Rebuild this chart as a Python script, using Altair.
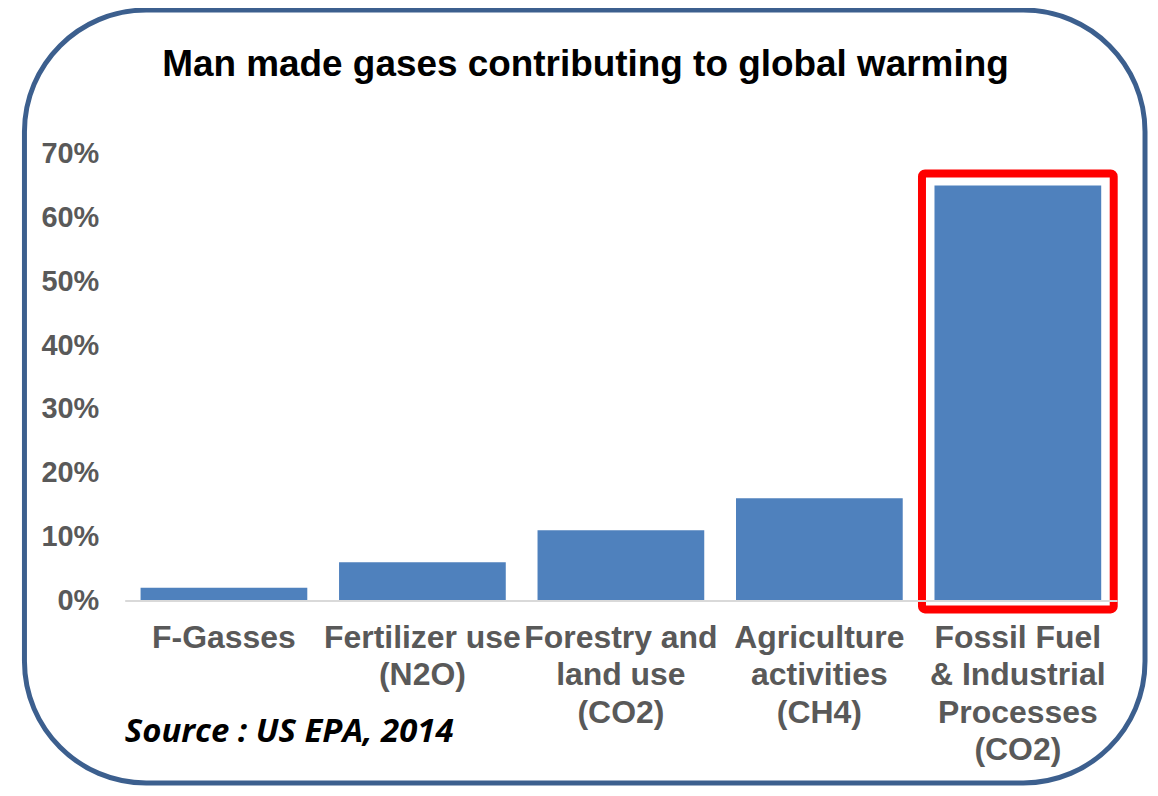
import altair as alt
import pandas as pd

categories = [
    "F-Gasses",
    "Fertilizer use\n(N2O)",
    "Forestry and\nland use\n(CO2)",
    "Agriculture\nactivities\n(CH4)",
    "Fossil Fuel\n& Industrial\nProcesses\n(CO2)",
]
values = [2, 6, 11, 16, 65]
highlight_category = [categories[4]]
highlight_top = [66.9]
highlight_bottom = [-1.4]
title_text = "Man made gases contributing to global warming"
source_text = "Source : US EPA, 2014"

df = pd.DataFrame({"cat": categories, "val": values})
hl = pd.DataFrame({"cat": highlight_category, "top": highlight_top, "bot": highlight_bottom})

GRAY = "#595959"
FONT = "Liberation Sans"

x_enc = alt.X(
    "cat:N",
    sort=categories,
    scale=alt.Scale(paddingInner=0.16, paddingOuter=0.08),
    axis=alt.Axis(
        title=None,
        labelAngle=0,
        labelFont=FONT,
        labelFontSize=32,
        labelFontWeight="bold",
        labelColor=GRAY,
        labelLineHeight=37.5,
        labelPadding=22,
        labelLimit=400,
        labelOverlap=False,
        labelBound=False,
        labelExpr="split(datum.label, '\\n')",
        ticks=False,
        domain=True,
        domainColor="#D9D9D9",
        domainWidth=2,
        grid=False,
        zindex=1,
    ),
)
y_scale = alt.Scale(domain=[0, 70], nice=False)

bars = alt.Chart(df).mark_bar(color="#4F81BD").encode(
    x=x_enc,
    y=alt.Y(
        "val:Q",
        scale=y_scale,
        axis=alt.Axis(
            title=None,
            values=[0, 10, 20, 30, 40, 50, 60, 70],
            labelExpr="datum.value + '%'",
            labelFont=FONT,
            labelFontSize=29,
            labelFontWeight="bold",
            labelColor=GRAY,
            labelPadding=26,
            ticks=False,
            domain=False,
            grid=False,
            zindex=1,
        ),
    ),
)

highlight = alt.Chart(hl).mark_bar(
    fill=None, fillOpacity=0, stroke="#FF0000", strokeWidth=8, cornerRadius=3,
    width=alt.RelativeBandSize(1.15),
).encode(
    x=alt.X("cat:N", sort=categories),
    y=alt.Y("top:Q", scale=y_scale),
    y2="bot:Q",
)

one = alt.Data(values=[{"a": 1}])

frame = alt.Chart(one).mark_rect(
    fill="white", stroke="#3C5F8E", strokeWidth=5, cornerRadius=122
).encode(
    x=alt.value(-100.5), x2=alt.value(1023),
    y=alt.value(-144), y2=alt.value(631),
)

title = alt.Chart(one).mark_text(
    text=title_text, font=FONT, fontSize=37, fontWeight="bold", color="black",
    align="center", baseline="alphabetic",
).encode(x=alt.value(462), y=alt.value(-78))

source = alt.Chart(one).mark_text(
    text=source_text, font="Open Sans", fontSize=33, fontWeight="bold", fontStyle="italic",
    color="black", align="left", baseline="alphabetic",
).encode(x=alt.value(0), y=alt.value(590))

chart = alt.layer(frame, bars, highlight, title, source).properties(
    width=995,
    height=448,
    autosize=alt.AutoSizeParams(type="none"),
    padding={"left": 117, "top": 145, "right": 33, "bottom": 186},
).configure_view(stroke=None)

chart.save("out.html", embed_options={"renderer": "svg", "actions": False})
